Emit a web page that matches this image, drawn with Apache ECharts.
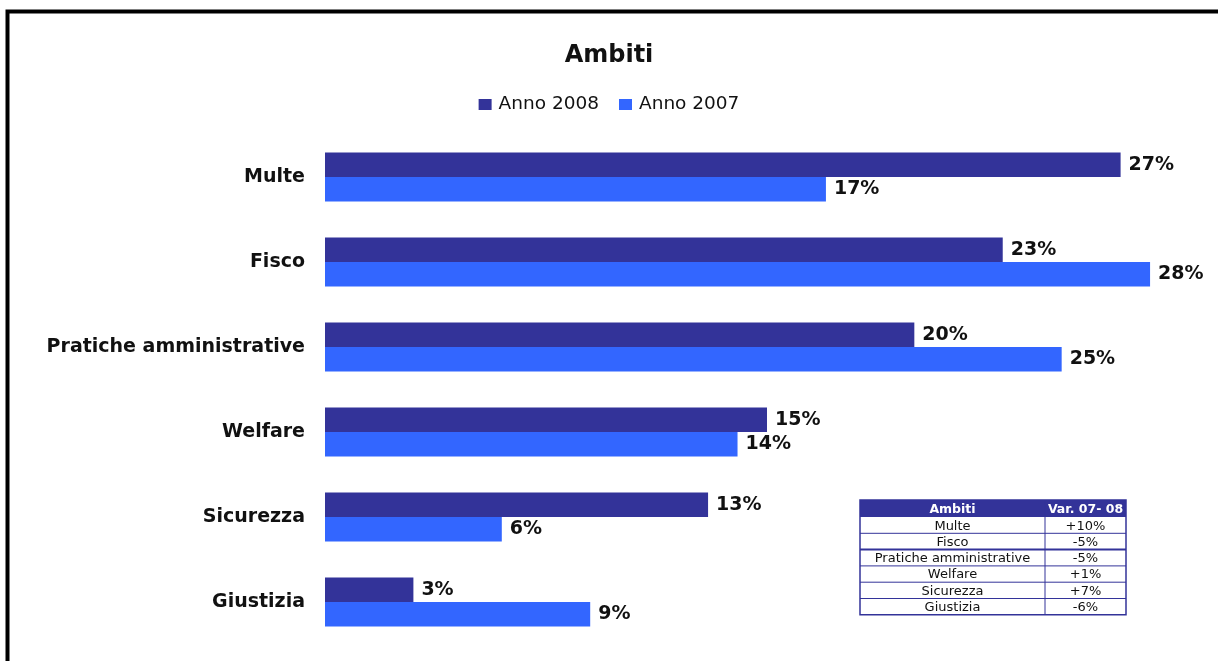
<!DOCTYPE html>
<html>
<head>
<meta charset="utf-8">
<title>Ambiti</title>
<script src="https://cdn.jsdelivr.net/npm/echarts@6/dist/echarts.min.js"></script>
<style>
html,body{margin:0;padding:0;background:#fff;}
#charts{width:1218px;height:661px;}
</style>
</head>
<body>
<div id="charts"></div>
<script>
var categorie = ['Multe','Fisco','Pratiche amministrative','Welfare','Sicurezza','Giustizia'];
var anno2008 = [27,23,20,15,13,3];
var anno2007 = [17,28,25,14,6,9];
var tabHeader = ['Ambiti','Var. 07- 08'];
var tabAmbiti = ['Multe','Fisco','Pratiche amministrative','Welfare','Sicurezza','Giustizia'];
var tabVar = ['+10%','-5%','-5%','+1%','+7%','-6%'];

var blu = '#333399';
var azzurro = '#3366FF';

// tabella riassuntiva in basso a destra
function tabella(){
	var x0 = 860, x1 = 1045, x2 = 1126;
	var y0 = 500, hh = 17, rh = 16.3;
	var yEnd = y0 + hh + rh*tabAmbiti.length;
	var el = [];
	el.push({type:'rect', shape:{x:x0, y:y0, width:x2-x0, height:hh}, style:{fill:blu}});
	el.push({type:'text', style:{text:tabHeader[0], x:(x0+x1)/2, y:y0+hh/2+1, align:'center', verticalAlign:'middle', textAlign:'center', textVerticalAlign:'middle', font:'bold 12.5px "DejaVu Sans"', fill:'#fff'}});
	el.push({type:'text', style:{text:tabHeader[1], x:(x1+x2)/2, y:y0+hh/2+1, align:'center', verticalAlign:'middle', textAlign:'center', textVerticalAlign:'middle', font:'bold 12.5px "DejaVu Sans"', fill:'#fff'}});
	for(var i=0;i<tabAmbiti.length;i++){
		var yc = y0 + hh + rh*i + rh/2;
		el.push({type:'text', style:{text:tabAmbiti[i], x:(x0+x1)/2, y:yc+1, align:'center', verticalAlign:'middle', textAlign:'center', textVerticalAlign:'middle', font:'13px "DejaVu Sans"', fill:'#111'}});
		el.push({type:'text', style:{text:tabVar[i], x:(x1+x2)/2, y:yc+1, align:'center', verticalAlign:'middle', textAlign:'center', textVerticalAlign:'middle', font:'13px "DejaVu Sans"', fill:'#111'}});
		if(i>0){
			var yl = y0 + hh + rh*i;
			el.push({type:'line', shape:{x1:x0, y1:yl, x2:x2, y2:yl}, style:{stroke:blu, lineWidth:(i==2?2:1)}});
		}
	}
	el.push({type:'line', shape:{x1:x1, y1:y0, x2:x1, y2:yEnd}, style:{stroke:blu, lineWidth:1}});
	el.push({type:'rect', shape:{x:x0, y:y0, width:x2-x0, height:yEnd-y0}, style:{fill:'none', stroke:blu, lineWidth:1.5}});
	return el;
}

var charts = echarts.init(document.getElementById('charts'));
var etichetta = {
	show: true,
	position: 'right',
	distance: 8,
	formatter: '{c}%',
	color: '#111',
	fontFamily: 'DejaVu Sans',
	fontWeight: 'bold',
	fontSize: 19
};
var option = {
	backgroundColor: '#fff',
	animation: false,
	title: {
		text: 'Ambiti',
		left: 'center',
		top: 39,
		textStyle: {fontFamily: 'DejaVu Sans', fontWeight: 'bold', fontSize: 24, color: '#111'}
	},
	legend: {
		data: ['Anno 2008','Anno 2007'],
		left: 'center',
		top: 90,
		itemWidth: 13,
		itemHeight: 11,
		itemGap: 20,
		icon: 'rect',
		textStyle: {fontFamily: 'DejaVu Sans', fontSize: 18.5, color: '#111', padding: [0,0,0,2]}
	},
	grid: {
		left: 325,
		top: 134.5,
		width: 884,
		height: 510,
		containLabel: false
	},
	xAxis: {
		type: 'value',
		min: 0,
		max: 30,
		show: false
	},
	yAxis: {
		type: 'category',
		data: categorie,
		inverse: true,
		axisLine: {show: false},
		axisTick: {show: false},
		axisLabel: {
			margin: 20,
			color: '#111',
			fontFamily: 'DejaVu Sans',
			fontWeight: 'bold',
			fontSize: 19,
			padding: [5,0,0,0]
		}
	},
	series: [{
		name: 'Anno 2008',
		type: 'bar',
		data: anno2008,
		barWidth: 24.5,
		barGap: '0%',
		itemStyle: {color: blu},
		label: etichetta
	},{
		name: 'Anno 2007',
		type: 'bar',
		data: anno2007,
		barWidth: 24.5,
		itemStyle: {color: azzurro},
		label: etichetta
	}],
	graphic: [{
		type: 'rect',
		shape: {x: 7.5, y: 11.5, width: 1400, height: 800},
		style: {fill: 'none', stroke: '#000', lineWidth: 4},
		z: 100
	},{
		type: 'group',
		children: tabella()
	}]
};
charts.setOption(option);
</script>
</body>
</html>
